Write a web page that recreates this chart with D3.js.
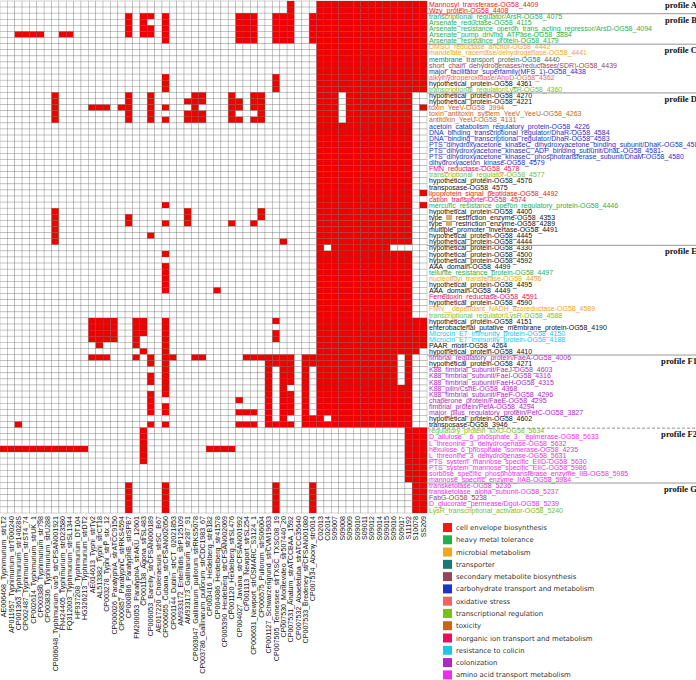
<!DOCTYPE html>
<html>
<head>
<meta charset="utf-8">
<script src="https://d3js.org/d3.v7.min.js"></script>
<style>
  body { margin: 0; background: #fff; }
</style>
</head>
<body>
<script>
  // strains (columns)
  var strains = [
    "AE006468_Typhimurium_strLT2", "AP011957_Typhimurium_strT000240", "CP001363_Typhimurium_str14028S",
    "CP002487_Typhimurium_strST4_74", "CP002614_Typhimurium_strUK_1", "CP003386_Typhimurium_str798",
    "CP003836_Typhimurium_strU288", "CP006048_Typhimurium_var5_strCFSAN001921", "FN424405_Typhimurium_strD23580",
    "FQ312003_Typhimurium_strSL1344", "HF937208_Typhimurium_DT104", "HG326213_Typhimurium_strDT2",
    "AE014613_Typhi_strTy2", "AL513382_Typhi_strCT18", "CP003278_Typhi_strP_stx_12",
    "CP000026_ParatyphiA_strATCC9150", "CP000857_ParatyphiC_strRKS4594", "CP000886_ParatyphiB_strSPB7",
    "FM200053_ParatyphiA_strAKU_12601", "CP001138_Agona_strSL483", "CP006053_Bareilly_strCFSAN000189",
    "AE017220_Choleraesuis_strSC_B67", "CP006055_Cubana_strCFSAN002050", "CP001144_Dublin_strCT_02021853",
    "AM933172_Enteritidis_strP125109", "AM933173_Gallinarum_str287_91", "CP003047_Gallinarum_pullorum_strRKS5078",
    "CP003786_Gallinarum_pullorum_strCDC1983_67", "CP003416_Heidelberg_strB182", "CP004086_Heidelberg_str41578",
    "CP005390_Heidelberg_strCFSAN002069", "CP001120_Heidelberg_strSL476", "CP004027_Javiana_strCFSAN001992",
    "CP001113_Newport_strSL254", "CP006631_Newport_strUSMARC_S3124_1", "CP006575_Pullorum_strS06004",
    "CP001127_Schwarzengrund_strCVM19633", "CP007505_Tennessee_strTXSC_TXSC08_19", "CP007530_Montevideo_str507440_20",
    "CP007531_Anatum_strATCCBAA_1592", "CP007532_Abaetetuba_strATCC35640", "CP007533_Bredeney_strCFSAN001080",
    "CP007534_Abony_str0014", "C02013", "C02014", "S09007", "S09008", "S09009", "S09010", "S09011",
    "S09012", "S09014", "S09015", "S09016", "S09017", "S11192", "S10078", "SS209"
  ];

  // genes (rows)
  var genes = [
    "Mannosyl_transferase-OG58_4409", "Wzy_protein-OG58_4408",
    "transcriptional_regulator/ArsR-OG58_4075", "Arsenate_reductase-OG58_4115",
    "Arsenate_resistance_operon_trans_acting_repressor/ArsD-OG58_4094", "Arsenate_pump_driving_ATPase-OG58_3884",
    "Arsenate_resistance_protein-OG58_4179",
    "DMSO_reductase_anchor-OG58_4442", "mandelate_racemase/dehydrogenase-OG58_4441",
    "membrane_transport_protein-OG58_4440", "short_chain_dehydrogenases/reductases(SDR)-OG58_4439",
    "major_facilitator_superfamily(MFS_1)-OG58_4438", "alkylhydroperoxidase/AhpD-OG58_4362",
    "hypothetical_protein-OG58_4361", "transcriptional_regulator/LysR-OG58_4360",
    "hypothetical_protein-OG58_4270", "hypothetical_protein-OG58_4221", "toxin_YeeV-OG58_3994",
    "toxin_antitoxin_system_YeeV_YeeU-OG58_4263", "antitoxin_YeeU-OG58_4131",
    "acetoin_catabolism_regulatory_protein-OG58_4226", "DNA_binding_transcriptional_regulator/DhaR-OG58_4584",
    "DNA_binding_transcriptional_regulator/DhaR-OG58_4583",
    "PTS_dihydroxyacetone_kinaseC_dihydroxyacetone_binding_subunit/DhaK-OG58_4582",
    "PTS_dihydroxyacetone_kinaseC_ADP_binding_subunit/DhaL-OG58_4581-",
    "PTS_dihydroxyacetone_kinaseC_phosphotransferase_subunit/DhaM-OG58_4580",
    "dihydroxyaceton_kinase-OG58_4579", "FMN_reductase-OG58_4578", "transcriptional_regulator-OG58_4577",
    "hypothetical_protein-OG58_4576", "transposase-OG58_4575", "lipoprotein_signal_peptidase-OG58_4492",
    "cation_transporter-OG58_4574", "mercuric_resistance_operon_regulatory_protein-OG58_4446",
    "hypothetical_protein-OG58_4400", "type_III_restriction_enzyme-OG58_4353",
    "type_III_restriction_enzyme-OG58_4289", "multiple_promoter_invertase-OG58_4491",
    "hypothetical_protein-OG58_4445", "hypothetical_protein-OG58_4444",
    "hypothetical_protein-OG58_4330", "hypothetical_protein-OG58_4500", "hypothetical_protein-OG58_4592",
    "AAA_domain-OG58_4499", "tellurite_resistance_protein-OG58_4497", "nucleotidyl_transferase-OG58_4496",
    "hypothetical_protein-OG58_4495", "AAA_domain-OG58_4449", "Ferredoxin_reductase-OG58_4591",
    "hypothetical_protein-OG58_4590", "FMN__dependant_NADH_azoreductase-OG58_4589",
    "transcriptional_regulator/LysR-OG58_4588", "hypothetical_protein-OG58_4151",
    "enterobacterial_putative_membrane_protein-OG58_4190", "Microcin_E7_immunity_protein-OG58_4150",
    "Microcin_E7_immunity_protein-OG58_4188", "PAAR_motif-OG58_4264", "hypothetical_protein-OG58_4410",
    "fimbrial_regulatory_protein/FaeA-OG58_4006", "hypothetical_protein-OG58_4271",
    "K88_fimbrial_subunit/FaeJ-OG58_4603", "K88_fimbrial_subunit/FaeI-OG58_4316",
    "K88_fimbrial_subunit/FaeH-OG58_4315", "K88_pilin/CshE-OG58_4368", "K88_fimbrial_subunit/FaeF-OG58_4296",
    "chaperone_protein/FaeE-OG58_4295", "fimbrial_protein/PefA-OG58_4294",
    "major_pilus_regulatory_protein/PefC-OG58_3827", "hypothetical_protein-OG58_4602", "transposase-OG58_3946",
    "regulatory_protein_luxO-OG58_5634", "D_allulose__6_phosphate_3__epimerase-OG58_5633",
    "L_threonine_3_dehydrogenase-OG58_5632", "hexulose_6_phosphate_isomerase-OG58_4235",
    "L_threonine_3_dehydrogenase-OG58_5631", "PTS_system_mannose_specific_EIID-OG58_5630",
    "PTS_system_mannose_specific_EIIC-OG58_5986", "sorbose_specific_phosphotransferase_enzyme_IIB-OG58_5985",
    "mannose_specific_enzyme_IIAB-OG58_5984",
    "transketolase-OG58_5236", "transketolase_alpha_subunit-OG58_5237", "FabG-OG58_5238",
    "D_glucorate_permease/Dgot-OG58_5239", "LysR_transcriptional_activator-OG58_5240"
  ];

  // functional category of each gene ("" = none)
  var geneCategory = [
    "cell", "cell",
    "metal", "metal", "metal", "metal", "metal",
    "microbial", "microbial", "transporter", "secondary", "carbohydrate", "oxidative", "", "transcription",
    "", "", "toxicity", "toxicity", "toxicity",
    "carbohydrate", "carbohydrate", "carbohydrate", "carbohydrate", "carbohydrate", "carbohydrate", "carbohydrate",
    "inorganic", "transcription", "", "", "cell", "inorganic", "metal",
    "", "", "", "", "", "",
    "", "", "", "", "metal", "microbial", "", "", "inorganic", "", "microbial", "transcription",
    "", "", "colicin", "colicin", "", "",
    "colonization", "", "colonization", "colonization", "colonization", "colonization", "colonization",
    "colonization", "colonization", "colonization", "", "",
    "transcription", "amino", "amino", "amino", "amino", "amino", "amino", "amino", "amino",
    "amino", "amino", "secondary", "amino", "transcription"
  ];

  // columns (1-based) where the gene is present, one entry per gene
  var presence = [
    "40,44-58", "40,44-58",
    "18,20-21,23,33-35,38-40,43-58",
    "18,20,23,33-35,38-40,43-58",
    "18,20-21,23,33-35,38-40,43-58",
    "3-6,9-10,18,20-21,23,33-35,38-40,43-58",
    "23,33-35,38-40,43-58",
    "44-58", "44-58", "44-58", "44-58", "44-58",
    "23,38,44-58", "23,38,44-58", "23,38,44-58",
    "8,18,21,27-28,32,35-36,44-46,48-56",
    "8,18,21,26-28,32-33,35-36,44-46,48-56",
    "8,13-15,17-18,21,23,27,32-33,35-36,44-46,48-56,58",
    "8,18,21,26-28,32,36,44-46,48-56",
    "8,18,21,23,26-28,32-33,35-36,44-46,48-56",
    "44-56", "44-56", "44-56", "44-56", "44-56", "44-56", "44-56", "44-56", "44-56", "44-56", "44-56",
    "44-56,58", "44-56", "23,44-56,58",
    "8,26,36,44-56", "8,18,26,36,44-56", "8,18,23,26,32,35,44-56", "8,44-56", "8,21,44-56", "8,39,44-56",
    "44,46-53", "23,44-56", "44-56", "23,44-56", "23,44-56", "23,44-56", "23,44-56", "23,30,44-56",
    "44-56", "44-56", "44-56", "44-56",
    "13-16,19-20,23,38,44-58", "13-16,19-20,23,44-58", "13-16,19-20,23,38,44-58",
    "13-16,19,23,38,44-58", "14,19,23,44-58", "20,23,44-57",
    "13-15,19,21,23-24,27-28,34-40,42-54,56",
    "21,23,37-40,42-54,56",
    "23,37,39-40,42,44-54,56",
    "21,23,37,39-40,42,44-54,56",
    "21,23,37,39-40,42,44-54,56",
    "23,37,39,42,44-56",
    "21,23,37,39-40,42,44-56",
    "21,33,37,39-40,42,44-56",
    "21,23,37,39-40,42,44-56",
    "21,23,33-35,37,39-40,42,44-56",
    "37,39,42-44,46-56",
    "3,21,23,33-35,37-40,42-56",
    "20,56-58", "20,56-58", "20,56-58", "1-12,20,29-32,56-58", "20,56-58", "20,56-58",
    "56-58", "56-58", "56-58",
    "18,23,38,43,57-58", "18,23,38,43,57-58", "18,23,38,43,57-58", "18,23,38,43,57-58", "18,23,38,43,57-58"
  ];

  // gene profiles: name and first row (0-based)
  var profileNames = ["profile A", "profile B", "profile C", "profile D", "profile E", "profile F1", "profile F2", "profile G"];
  var profileStarts = [0, 2, 7, 15, 40, 58, 70, 79];

  // legend
  var categories = ["cell", "metal", "microbial", "transporter", "secondary", "carbohydrate", "oxidative",
                    "transcription", "toxicity", "inorganic", "colicin", "colonization", "amino"];
  var categoryNames = ["cell envelope biosynthesis", "heavy metal tolerance", "microbial metabolism", "transporter",
                       "secondary metabolite biosynthesis", "carbohydrate transport and metabolism", "oxidative stress",
                       "transcriptional regulation", "toxicity", "inorganic ion transport and metabolism",
                       "resistance to colicin", "colonization", "amino acid transport metabolism"];

  var color = d3.scaleOrdinal()
    .domain(categories)
    .range(["#ec1c10", "#1fb24a", "#f5a41e", "#187a78", "#94465c", "#1c34c6", "#f26262",
            "#76c21c", "#c8651a", "#ec0e5c", "#1ec6e8", "#b027c6", "#f02cee"]);

  var width = 696;
  var height = 680;
  var gridW = 427;
  var gridTop = 1, gridBottom = 513;

  var svg = d3.select("body").append("svg")
    .attr("width", width)
    .attr("height", height)
    .style("display", "block");

  var x = d3.scaleBand().domain(d3.range(strains.length)).range([0, gridW]);
  var y = d3.scaleBand().domain(d3.range(genes.length)).range([gridTop, gridBottom]);

  function expand(str) {
    var set = {};
    str.split(",").forEach(function(p) {
      if (!p) return;
      var ab = p.split("-");
      var a = +ab[0], b = ab.length > 1 ? +ab[1] : a;
      for (var i = a; i <= b; i++) set[i - 1] = true;
    });
    return set;
  }

  var cells = [];
  presence.forEach(function(str, r) {
    var set = expand(str);
    strains.forEach(function(s, c) {
      cells.push({ r: r, c: c, on: !!set[c] });
    });
  });

  svg.append("g").selectAll("rect")
    .data(cells)
    .enter()
    .append("rect")
    .attr("x", function(d) { return x(d.c); })
    .attr("y", function(d) { return y(d.r); })
    .attr("width", x.bandwidth())
    .attr("height", y.bandwidth())
    .style("fill", function(d) { return d.on ? "#f20000" : "#fff"; })
    .style("stroke", "#555")
    .style("stroke-opacity", 0.42)
    .style("stroke-width", 0.6);

  // gene labels
  svg.append("g").selectAll("text")
    .data(genes)
    .enter()
    .append("text")
    .attr("x", gridW + 2)
    .attr("y", function(d, i) { return y(i) + y.bandwidth() / 2 + 2.6; })
    .style("font-family", "'Liberation Sans', Arial, sans-serif")
    .style("font-size", "7px")
    .style("fill", function(d, i) { return geneCategory[i] ? color(geneCategory[i]) : "#111"; })
    .text(function(d) { return d; });

  // strain labels
  svg.append("g").selectAll("text")
    .data(strains)
    .enter()
    .append("text")
    .attr("transform", function(d, i) {
      return "translate(" + (x(i) + x.bandwidth() / 2 + 2.5) + "," + (gridBottom + 3) + ") rotate(-90)";
    })
    .attr("text-anchor", "end")
    .style("font-family", "'Liberation Sans', Arial, sans-serif")
    .style("font-size", "7.1px")
    .style("fill", "#111")
    .text(function(d) { return d; });

  // profile separators and names
  var prof = svg.append("g");
  profileStarts.forEach(function(start, i) {
    var ly = y(start) + 0.5;
    if (i > 0) {
      prof.append("line")
        .attr("x1", gridW).attr("x2", width)
        .attr("y1", ly).attr("y2", ly)
        .style("stroke", "#8a8a8a")
        .style("stroke-width", 0.9)
        .style("stroke-dasharray", profileNames[i] == "profile F2" ? "3,2" : null);
    }
    prof.append("text")
      .attr("x", width + 1)
      .attr("y", i > 0 ? ly + 9 : 7.5)
      .attr("text-anchor", "end")
      .style("font-family", "'Liberation Serif', 'DejaVu Serif', serif")
      .style("font-weight", "bold")
      .style("font-size", "8.6px")
      .style("fill", "#111")
      .text(profileNames[i]);
  });

  // legend
  var legend = svg.append("g").selectAll("g")
    .data(categories)
    .enter()
    .append("g")
    .attr("transform", function(d, i) { return "translate(443," + (523 + i * 12.28) + ")"; });

  legend.append("rect")
    .attr("width", 9)
    .attr("height", 9)
    .style("fill", function(d) { return color(d); });

  legend.append("text")
    .attr("x", 13)
    .attr("y", 7)
    .style("font-family", "'DejaVu Sans', sans-serif")
    .style("font-size", "6.9px")
    .style("fill", "#333")
    .text(function(d, i) { return categoryNames[i]; });
</script>
</body>
</html>
